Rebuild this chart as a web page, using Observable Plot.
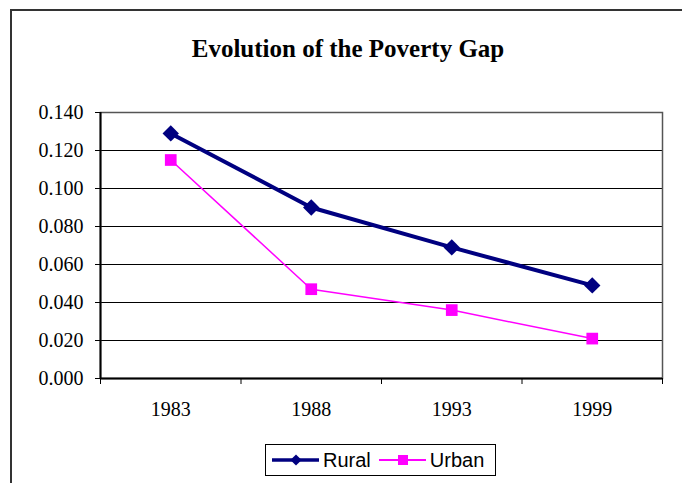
<!DOCTYPE html>
<html>
<head>
<meta charset="utf-8">
<script src="https://cdn.jsdelivr.net/npm/d3@7"></script>
<script src="https://cdn.jsdelivr.net/npm/@observablehq/plot@0.6"></script>
<style>
  html, body { margin: 0; padding: 0; background: #fff; }
  #wrap { position: relative; width: 682px; height: 483px; overflow: hidden; background: #fff; }
  #chart { position: absolute; left: 0; top: 0; }
  #title { position: absolute; left: 0; width: 696px; top: 35px; text-align: center;
    font-family: "Liberation Serif", "Times New Roman", serif; font-weight: bold; font-size: 25px; color: #000; }
  #border { position: absolute; left: 10px; top: 9px; width: 700px; height: 500px;
    border-left: 2px solid #333; border-top: 2px solid #333; pointer-events: none; }
  #legend { position: absolute; left: 265px; top: 444px; width: 231px; height: 32px; box-sizing: border-box;
    border: 1px solid #000; background: #fff; display: flex; align-items: center;
    font-family: "Liberation Sans", Arial, sans-serif; font-size: 20px; color: #000; }
  #legend .item { display: flex; align-items: center; }
  #legend svg { display: block; }
</style>
</head>
<body>
<div id="wrap">
  <div id="chart"></div>
  <div id="title">Evolution of the Poverty Gap</div>
  <div id="border"></div>
  <div id="legend"></div>
</div>
<script>
const years = ["1983", "1988", "1993", "1999"];
const rural = [0.129, 0.090, 0.069, 0.049];
const urban = [0.115, 0.047, 0.036, 0.021];
const yTicks = [0, 0.02, 0.04, 0.06, 0.08, 0.10, 0.12, 0.14];
const seriesNames = ["Rural", "Urban"];
const seriesColors = ["#000080", "#FF00FF"];

const xi = (d, i) => i + 0.5;

const plot = Plot.plot({
  width: 682,
  height: 483,
  marginLeft: 100,
  marginRight: 20,
  marginTop: 112,
  marginBottom: 105,
  style: { fontFamily: "Liberation Serif, Times New Roman, serif", fontSize: "20px", color: "#000", background: "transparent" },
  x: { type: "linear", domain: [0, years.length] },
  y: { domain: [0, 0.14] },
  marks: [
    Plot.ruleY(yTicks.filter(d => d > 0), { stroke: "#000", strokeWidth: 1 }),
    Plot.frame({ stroke: "#555", strokeWidth: 1.5 }),
    Plot.axisY({ ticks: yTicks, tickFormat: d3.format(".3f"), tickSize: 5, tickPadding: 12, label: null, fontSize: 20 }),
    Plot.axisX({ ticks: d3.range(years.length + 1), tickSize: 6, tickFormat: () => "", label: null }),
    Plot.axisX({ ticks: years.map((d, i) => i + 0.5), tickSize: 0, tickPadding: 23, fontSize: 20,
      tickFormat: v => years[Math.floor(v)], label: null }),
    Plot.ruleX([0], { stroke: "#000", strokeWidth: 2 }),
    Plot.ruleY([0], { stroke: "#000", strokeWidth: 2 }),
    Plot.line(urban, { x: xi, y: d => d, stroke: seriesColors[1], strokeWidth: 1.5 }),
    Plot.dot(urban, { x: xi, y: d => d, symbol: "square", r: 6.6, fill: seriesColors[1], stroke: "none" }),
    Plot.line(rural, { x: xi, y: d => d, stroke: seriesColors[0], strokeWidth: 4 }),
    Plot.dot(rural, { x: xi, y: d => d, symbol: "diamond2", r: 7.4, fill: seriesColors[0], stroke: "none" })
  ]
});
document.getElementById("chart").appendChild(plot);

// Legend
const legend = document.getElementById("legend");
seriesNames.forEach((name, k) => {
  const item = document.createElement("div");
  item.className = "item";
  item.style.marginLeft = k === 0 ? "6px" : "8px";
  const ns = "http://www.w3.org/2000/svg";
  const svg = document.createElementNS(ns, "svg");
  svg.setAttribute("width", 48);
  svg.setAttribute("height", 20);
  const line = document.createElementNS(ns, "line");
  line.setAttribute("x1", 0); line.setAttribute("x2", 47);
  line.setAttribute("y1", 10); line.setAttribute("y2", 10);
  line.setAttribute("stroke", seriesColors[k]);
  line.setAttribute("stroke-width", k === 0 ? 3.5 : 2);
  svg.appendChild(line);
  const sym = document.createElementNS(ns, "path");
  sym.setAttribute("transform", "translate(24,10)");
  sym.setAttribute("d", d3.symbol(k === 0 ? d3.symbolDiamond2 : d3.symbolSquare, k === 0 ? 80 : 100)());
  sym.setAttribute("fill", seriesColors[k]);
  svg.appendChild(sym);
  item.appendChild(svg);
  const t = document.createElement("span");
  t.textContent = name;
  t.style.marginLeft = "3px";
  item.appendChild(t);
  legend.appendChild(item);
});
</script>
</body>
</html>
